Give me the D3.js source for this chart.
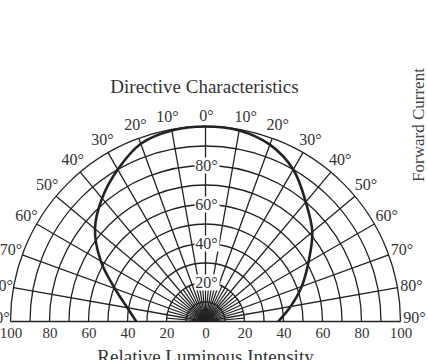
<style>body{margin:0}</style>
<svg width='428' height='360' style='display:block'></svg>
<script src="https://d3js.org/d3.v7.min.js"></script>
<script>
// Data (relative intensity in %, angle in degrees from the axis)
const angles = [-90, -80, -70, -60, -50, -40, -30, -20, -10, 0, 10, 20, 30, 40, 50, 60, 70, 80, 90];
const intensity = [35.5, 40.7, 49.5, 62, 74, 82.5, 90, 97, 99.5, 100, 99.5, 96.5, 90, 80, 71.5, 61, 52.5, 44.3, 37.3];
const gridAngles = d3.range(-90, 91, 10);
const fineAngles = d3.range(-85, 86, 10);
const gridRadii = d3.range(10, 101, 10);
const angleLabels = d3.range(-90, 91, 10);
const innerLabels = [20, 40, 60, 80];
const xTicks = [-100, -80, -60, -40, -20, 0, 20, 40, 60, 80, 100];

const cx = 205.5, cy = 321.5, R = 195;
const ink = '#222';
const font = '"Liberation Serif", "DejaVu Serif", serif';

const r = d3.scaleLinear().domain([0, 100]).range([0, R]);
const x = d3.scaleLinear().domain([-100, 100]).range([cx - R, cx + R]);
const rad = d => d * Math.PI / 180;

const svg = d3.select('svg').style('background', '#fff');
const g = svg.append('g').attr('transform', 'translate(' + cx + ',' + cy + ')');

// concentric arcs
const arc = d3.arc().startAngle(-Math.PI / 2).endAngle(Math.PI / 2);
g.selectAll('.ring').data(gridRadii).enter()
  .append('path')
  .attr('d', d => arc({innerRadius: r(d), outerRadius: r(d)}))
  .attr('fill', 'none')
  .attr('stroke', ink)
  .attr('stroke-width', 1.3);

// spokes every 10 deg, plus short ones in between near the centre
g.selectAll('.spoke').data(gridAngles).enter()
  .append('line')
  .attr('x1', 0).attr('y1', 0)
  .attr('x2', d => r(100) * Math.sin(rad(d)))
  .attr('y2', d => -r(100) * Math.cos(rad(d)))
  .attr('stroke', ink)
  .attr('stroke-width', 1.3);
g.selectAll('.fine').data(fineAngles).enter()
  .append('line')
  .attr('x1', 0).attr('y1', 0)
  .attr('x2', d => r(20) * Math.sin(rad(d)))
  .attr('y2', d => -r(20) * Math.cos(rad(d)))
  .attr('stroke', ink)
  .attr('stroke-width', 1.2);

// the measured curve
const line = d3.lineRadial()
  .angle((d, i) => rad(angles[i]))
  .radius(d => r(d))
  .curve(d3.curveCatmullRom);
g.append('path')
  .datum(intensity)
  .attr('d', line)
  .attr('fill', 'none')
  .attr('stroke', ink)
  .attr('stroke-width', 2.6);

// inner labels on the vertical axis, with white boxes
const inner = g.selectAll('.inner').data(innerLabels).enter().append('g')
  .attr('transform', d => 'translate(1,' + (-r(d)) + ')');
inner.append('rect')
  .attr('x', -12).attr('y', -8).attr('width', 25).attr('height', 16)
  .attr('fill', '#fff');
inner.append('text')
  .text(d => d + '°')
  .attr('text-anchor', 'middle')
  .attr('dominant-baseline', 'central')
  .style('font-family', font).style('font-size', '16px').attr('fill', '#333');

// angle labels around the outside
const lr = R + 13;
g.selectAll('.alabel').data(angleLabels).enter()
  .append('text')
  .text(d => Math.abs(d) + '°')
  .attr('x', d => lr * Math.sin(rad(d)) + (d === 10 || d === -10 ? 3 * Math.sign(d) : 0) + 1)
  .attr('y', d => -lr * Math.cos(rad(d)) + 2 - 5 * Math.abs(Math.sin(rad(2 * d))) - (Math.abs(d) === 90 ? 6 : 0))
  .attr('text-anchor', 'middle')
  .attr('dominant-baseline', 'central')
  .style('font-family', font).style('font-size', '16px').attr('fill', '#333');

// x axis labels
const xAxis = d3.axisBottom(x).tickValues(xTicks).tickSize(0).tickPadding(6)
  .tickFormat(d => Math.abs(d));
const ax = svg.append('g').attr('transform', 'translate(0,' + cy + ')').call(xAxis);
ax.select('.domain').remove();
ax.selectAll('text').style('font-family', font).style('font-size', '15px').attr('fill', '#333');

// titles
svg.append('text').text('Directive Characteristics')
  .attr('x', 204.5).attr('y', 93).attr('text-anchor', 'middle')
  .style('font-family', font).style('font-size', '19px').attr('fill', '#333');
svg.append('text').text('Relative Luminous Intensity')
  .attr('x', 205.5).attr('y', 363).attr('text-anchor', 'middle')
  .style('font-family', font).style('font-size', '19px').attr('fill', '#333');
svg.append('text').text('Forward Current')
  .attr('transform', 'translate(424,125) rotate(-90)').attr('text-anchor', 'middle')
  .style('font-family', font).style('font-size', '17px').attr('fill', '#444');
</script>
